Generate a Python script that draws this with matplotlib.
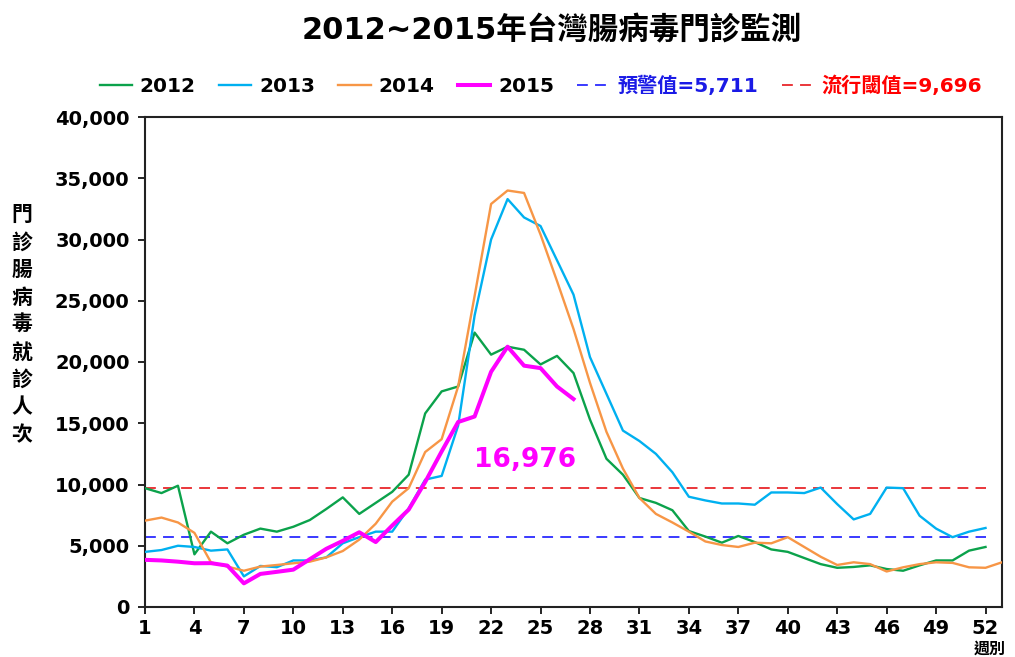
import matplotlib
matplotlib.use("Agg")
import matplotlib.pyplot as plt
from matplotlib.ticker import FuncFormatter, FixedLocator

plt.rcParams['font.family'] = ['DejaVu Sans', 'Noto Sans CJK TC']
plt.rcParams['font.weight'] = 'bold'

title = "2012~2015年台灣腸病毒門診監測"
ylabel_chars = list("門診腸病毒就診人次")
xlabel = "週別"
series_names = ["2012", "2013", "2014", "2015"]
warn_value = 5711
epi_value = 9696
warn_label = "預警值=5,711"
epi_label = "流行閾值=9,696"
last_label = "16,976"

y2012 = [9700, 9300, 9900, 4300, 6150, 5200, 5900, 6400, 6150, 6550, 7100, 8000, 8950,
         7600, 8500, 9400, 10800, 15800, 17600, 18000, 22400, 20600, 21250, 21000, 19800,
         20500, 19100, 15300, 12100, 10800, 8900, 8500, 7900, 6200, 5750, 5250, 5800, 5300,
         4700, 4500, 4000, 3500, 3200, 3270, 3400, 3100, 2960, 3400, 3800, 3800, 4600, 4900]
y2013 = [4500, 4650, 5000, 4900, 4600, 4700, 2500, 3350, 3250, 3800, 3800, 4050, 5200,
         5700, 6150, 6150, 8050, 10400, 10700, 14800, 23800, 30000, 33300, 31800, 31100,
         28300, 25500, 20400, 17400, 14400, 13550, 12500, 11000, 9000, 8700, 8450, 8450, 8350,
         9350, 9350, 9300, 9750, 8400, 7150, 7600, 9750, 9700, 7450, 6400, 5700, 6150, 6450]
y2014 = [7050, 7300, 6900, 6050, 3650, 3300, 2960, 3300, 3430, 3570, 3700, 4050, 4570,
         5500, 6800, 8600, 9700, 12650, 13700, 18000, 25400, 32900, 34000, 33800, 30400,
         26600, 22700, 18300, 14300, 11300, 8900, 7600, 6900, 6150, 5350, 5060, 4900, 5250,
         5200, 5700, 4900, 4100, 3430, 3650, 3500, 2900, 3240, 3500, 3650, 3600, 3240, 3200, 3650]
y2015 = [3850, 3800, 3700, 3570, 3580, 3380, 1930, 2700, 2870, 3050, 3900, 4750, 5400,
         6100, 5300, 6650, 7950, 10200, 12700, 15100, 15550, 19200, 21250, 19700, 19500,
         18000, 16976]

colors = ["#0BA24B", "#00B0F0", "#F79646", "#FF00FF"]
widths = [1.7, 1.7, 1.7, 2.9]

fig = plt.figure(figsize=(10.15, 6.57), dpi=100)
ax = fig.add_axes([145/1015, 1-607/657, (1002-145)/1015, (607-117)/657])

handles = []
for name, ys, c, lw in zip(series_names, [y2012, y2013, y2014, y2015], colors, widths):
    wk = list(range(1, len(ys) + 1))
    h, = ax.plot(wk, ys, color=c, lw=lw, label=name, zorder=3 if name != "2015" else 4,
                 solid_joinstyle='round')
    handles.append(h)

weeks52 = list(range(1, 53))
hw, = ax.plot(weeks52, [warn_value]*52, color="#2B2BFF", lw=1.3, ls=(0, (6, 4)), label=warn_label, zorder=2)
he, = ax.plot(weeks52, [epi_value]*52, color="#E8262B", lw=1.3, ls=(0, (6, 4)), label=epi_label, zorder=2)
handles += [hw, he]

fig.text(525/1015, 1-460/657, last_label, color="#FF00FF", fontsize=19, fontweight='bold',
         ha='center', va='center')

ax.set_xlim(1, 53)
ax.set_ylim(0, 40000)
ax.xaxis.set_major_locator(FixedLocator(list(range(1, 53, 3))))
ax.yaxis.set_major_locator(FixedLocator(list(range(0, 40001, 5000))))
ax.yaxis.set_major_formatter(FuncFormatter(lambda v, p: f"{int(v):,}"))
ax.tick_params(axis='both', direction='out', length=5, width=1.2, labelsize=14, pad=6)
ax.tick_params(axis='x', pad=4)
for lab in ax.get_xticklabels() + ax.get_yticklabels():
    lab.set_fontweight('bold')
for s in ax.spines.values():
    s.set_linewidth(1.5)
    s.set_color('#222222')

fig.text(552/1015, 1-30/657, title, ha='center', va='center', fontsize=22, fontweight='bold')

for i, ch in enumerate(ylabel_chars):
    fig.text(22/1015, 1-(215 + i*27.5)/657, ch, ha='center', va='center', fontsize=15, fontweight='bold')
fig.text(990/1015, 1-649/657, xlabel, ha='center', va='center', fontsize=11.5, fontweight='bold')

leg = fig.legend(handles=handles, loc='center', bbox_to_anchor=(541/1015, 1-86/657), ncol=6,
                 frameon=False, handlelength=1.6, handletextpad=0.4, columnspacing=1.15,
                 prop={'weight': 'bold', 'size': 14.5})
txt_colors = ['black', 'black', 'black', 'black', '#1A1AE6', '#FF0000']
for t, c in zip(leg.get_texts(), txt_colors):
    t.set_color(c)

fig.savefig("out.png", dpi=100)
